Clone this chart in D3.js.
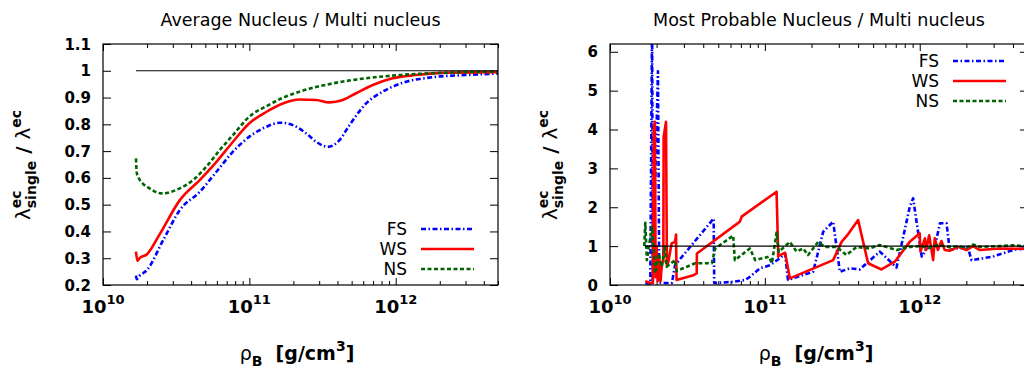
<!DOCTYPE html>
<html>
<head>
<meta charset="utf-8">
<script src="https://cdn.jsdelivr.net/npm/d3@7"></script>
<style>
  body { margin: 0; background: #fff; }
  svg { display: block; }
</style>
</head>
<body>
<svg id="chart" width="1024" height="369"></svg>
<script>
'use strict';

// ---- left panel: average nucleus / multi nucleus
var avgRhoFS = [1.68e10, 1.70e10, 1.76e10, 2.0e10, 2.58e10, 3.35e10, 4.58e10, 5.96e10, 7.73e10, 1.0e11, 1.31e11, 1.61e11,
  1.98e11, 2.45e11, 2.86e11, 3.44e11, 4.13e11, 4.83e11, 6.28e11, 8.15e11, 1.06e12, 1.79e12, 3.01e12, 5e12];
var avgFS = [0.235, 0.222, 0.232, 0.256, 0.368, 0.48, 0.548, 0.623, 0.698, 0.754, 0.791, 0.806,
  0.797, 0.766, 0.735, 0.716, 0.741, 0.797, 0.878, 0.922, 0.951, 0.976, 0.984, 0.99];

var avgRhoWS = [1.68e10, 1.72e10, 1.78e10, 2.0e10, 2.46e10, 3.35e10, 4.58e10, 5.96e10, 7.73e10, 1.0e11, 1.31e11,
  1.69e11, 2.20e11, 2.86e11, 3.53e11, 4.35e11, 5.36e11, 6.97e11, 9.53e11, 1.37e12, 2.32e12, 5e12];
var avgWS = [0.325, 0.29, 0.30, 0.315, 0.393, 0.517, 0.592, 0.66, 0.735, 0.804, 0.847,
  0.878, 0.893, 0.891, 0.882, 0.891, 0.916, 0.947, 0.972, 0.984, 0.993, 0.995];

var avgRhoNS = [1.68e10, 1.70e10, 1.74e10, 1.87e10, 2.0e10, 2.52e10, 3.35e10, 4.13e10, 5.09e10, 6.28e10, 7.73e10,
  1.0e11, 1.31e11, 1.69e11, 2.20e11, 3.72e11, 6.28e11, 1.06e12, 2.32e12, 5e12];
var avgNS = [0.673, 0.62, 0.604, 0.579, 0.567, 0.542, 0.561, 0.592, 0.642, 0.704, 0.76,
  0.829, 0.868, 0.899, 0.922, 0.953, 0.972, 0.984, 0.993, 0.997];

// ---- right panel: most probable nucleus / multi nucleus
var mpRhoFS = [1.69e10, 1.82e10, 1.87e10, 1.89e10, 2.04e10, 2.08e10, 2.51e10, 2.63e10, 4.67e10, 4.71e10,
  6.24e10, 7.46e10, 8.0e10, 9.29e10, 1.08e11, 1.25e11, 1.35e11, 1.41e11, 2.05e11, 2.38e11,
  2.76e11, 3.05e11, 3.53e11, 4.10e11, 5.52e11, 7.08e11, 8.62e11, 9.06e11, 1.03e12, 1.08e12,
  1.10e12, 1.25e12, 1.35e12, 1.49e12, 1.56e12, 1.77e12, 2.05e12, 2.16e12, 2.97e12, 4.0e12, 5e12];
var mpFS = [0.04, 0.04, 6.9, 0.05, 5.5, 0.05, 0.05, 0.51, 1.71, 0.05,
  0.08, 0.13, 0.21, 0.43, 0.51, 0.69, 0.81, 0.13, 0.34, 1.37,
  1.63, 0.34, 0.43, 0.40, 0.86, 0.45, 2.01, 2.23, 0.73, 0.85,
  0.95, 0.97, 1.59, 1.59, 0.90, 0.95, 0.95, 0.64, 0.73, 0.90, 0.95];

var mpRhoWS = [1.69e10, 1.82e10, 1.89e10, 1.92e10, 1.95e10, 1.97e10, 2.0e10, 2.03e10, 2.08e10, 2.12e10,
  2.17e10, 2.21e10, 2.22e10, 2.30e10, 2.33e10, 2.38e10, 2.50e10, 2.63e10, 2.67e10, 2.69e10,
  3.45e10, 3.63e10, 3.64e10, 6.90e10, 7.08e10, 1.19e11, 1.22e11, 1.25e11, 1.35e11, 1.45e11,
  2.76e11, 3.13e11, 3.45e11, 4.0e11, 4.64e11, 5.66e11, 6.90e11, 8.62e11, 1.0e12, 1.01e12,
  1.08e12, 1.10e12, 1.15e12, 1.22e12, 1.25e12, 1.31e12, 1.38e12, 1.45e12, 1.56e12, 1.77e12,
  2.0e12, 2.21e12, 2.44e12, 3.28e12, 5e12];
var mpWS = [0.1, 0.05, 0.05, 4.1, 4.2, 0.2, 1.0, 0.1, 0.7, 0.1,
  0.6, 0.6, 3.8, 4.2, 0.5, 0.6, 1.07, 1.11, 1.3, 0.13,
  0.25, 0.3, 0.81, 1.63, 1.76, 2.40, 0.73, 0.77, 0.83, 0.17,
  0.64, 1.11, 1.31, 1.67, 0.56, 0.40, 0.60, 1.11, 1.33, 0.86,
  1.2, 0.9, 1.28, 0.64, 1.2, 0.9, 1.13, 0.9, 0.88, 0.98,
  0.9, 1.0, 0.9, 0.94, 0.93];

var mpRhoNS = [1.665e10, 1.69e10, 1.73e10, 1.81e10, 1.87e10, 1.96e10, 2.06e10, 2.16e10, 2.26e10, 2.32e10,
  2.63e10, 2.69e10, 3.55e10, 4.55e10, 4.78e10, 6.24e10, 6.40e10, 8.0e10, 8.66e10, 1.06e11,
  1.11e11, 1.19e11, 1.23e11, 1.35e11, 1.45e11, 1.60e11, 1.77e11, 1.90e11, 2.21e11, 2.44e11,
  2.90e11, 3.37e11, 3.91e11, 4.75e11, 5.52e11, 7.08e11, 8.62e11, 1.0e12, 1.15e12, 1.31e12,
  1.56e12, 1.77e12, 2.0e12, 2.21e12, 2.44e12, 3.28e12, 4.0e12, 5e12];
var mpNS = [1.0, 1.6, 0.64, 1.16, 1.5, 0.3, 0.81, 0.47, 0.98, 0.47,
  0.64, 0.36, 0.56, 0.56, 0.94, 1.27, 0.64, 0.94, 0.64, 0.73,
  0.56, 1.35, 0.85, 1.0, 1.11, 0.86, 0.94, 0.77, 1.11, 0.98,
  0.98, 0.77, 0.98, 0.94, 1.03, 0.90, 0.98, 1.0, 0.95, 1.03,
  0.97, 1.0, 0.96, 1.04, 0.98, 1.0, 1.02, 0.99];

var seriesNames = ['FS', 'WS', 'NS'];
var decades = [1e10, 1e11, 1e12];
var decadeExp = ['10', '11', '12'];
var avgYTicks = [0.2, 0.3, 0.4, 0.5, 0.6, 0.7, 0.8, 0.9, 1, 1.1];
var mpYTicks = [0, 1, 2, 3, 4, 5, 6];
var refLineRho = [1.68e10, 5e12];   // horizontal y = 1 guide

var FONT = '"DejaVu Sans", Verdana, sans-serif';
var styles = {
  FS: { color: '#0000ff', dash: '5,2.5,1.5,2.5' },
  WS: { color: '#ff0000', dash: null },
  NS: { color: '#006400', dash: '4,2.5' }
};

var svg = d3.select('#chart');
var defs = svg.append('defs');

function zip(xs, ys) {
  return xs.map(function(v, i) { return [v, ys[i]]; });
}

function measure(str, size, weight) {
  var t = svg.append('text').attr('font-family', FONT).attr('font-size', size)
    .attr('font-weight', weight).text(str);
  var w = t.node().getComputedTextLength();
  t.remove();
  return w;
}

function drawPanel(p) {
  var g = svg.append('g');
  var x = d3.scaleLog().domain([1e10, 5e12]).range([p.left, p.right]);
  var y = d3.scaleLinear().domain(p.yDomain).range([p.bottom, p.top]);

  defs.append('clipPath').attr('id', 'clip-' + p.id).append('rect')
    .attr('x', p.left).attr('y', p.top)
    .attr('width', p.right - p.left).attr('height', p.bottom - p.top);

  var minors = [];
  decades.forEach(function(d) {
    for (var k = 2; k <= 9; k++) if (d * k <= 5e12) minors.push(d * k);
  });

  function tickAxis(axis, tr) {
    var a = g.append('g').attr('transform', tr).call(axis);
    a.select('.domain').remove();
    a.selectAll('line').attr('stroke', '#000').attr('stroke-width', 1);
    a.selectAll('text').remove();
  }
  tickAxis(d3.axisTop(x).tickValues(decades).tickSize(7), 'translate(0,' + p.bottom + ')');
  tickAxis(d3.axisTop(x).tickValues(minors).tickSize(4), 'translate(0,' + p.bottom + ')');
  tickAxis(d3.axisBottom(x).tickValues(decades).tickSize(7), 'translate(0,' + p.top + ')');
  tickAxis(d3.axisBottom(x).tickValues(minors).tickSize(4), 'translate(0,' + p.top + ')');
  tickAxis(d3.axisRight(y).tickValues(p.yTicks).tickSize(8), 'translate(' + p.left + ',0)');
  tickAxis(d3.axisLeft(y).tickValues(p.yTicks).tickSize(8), 'translate(' + p.right + ',0)');

  // y tick labels
  g.selectAll('.ylab').data(p.yTicks).enter().append('text')
    .attr('x', p.left - 12).attr('y', function(d) { return y(d) + 5.5; })
    .attr('text-anchor', 'end').attr('font-family', FONT).attr('font-size', 15)
    .attr('font-weight', 'bold').text(function(d) { return d; });

  // x tick labels 10^n
  decades.forEach(function(d, i) {
    var t = g.append('text').attr('x', x(d)).attr('y', p.bottom + 28)
      .attr('text-anchor', 'middle').attr('font-family', FONT).attr('font-weight', 'bold');
    t.append('tspan').attr('font-size', 18).text('10');
    t.append('tspan').attr('font-size', 13).attr('dy', -9).text(decadeExp[i]);
  });

  // data
  var line = d3.line().x(function(d) { return x(d[0]); }).y(function(d) { return y(d[1]); })
    .curve(p.curve);
  var plot = g.append('g').attr('clip-path', 'url(#clip-' + p.id + ')');
  p.series.forEach(function(s) {
    var st = styles[s.name];
    plot.append('path').datum(zip(s.rho, s.val)).attr('d', line)
      .attr('fill', 'none').attr('stroke', st.color).attr('stroke-width', 2.6)
      .attr('stroke-dasharray', st.dash).attr('stroke-linejoin', 'round');
  });
  plot.append('path').datum(zip(refLineRho, [1, 1])).attr('d', d3.line()
      .x(function(d) { return x(d[0]); }).y(function(d) { return y(d[1]); }))
    .attr('stroke', '#000').attr('stroke-width', 1.1).attr('fill', 'none');

  // frame
  g.append('rect').attr('x', p.left).attr('y', p.top)
    .attr('width', p.right - p.left).attr('height', p.bottom - p.top)
    .attr('fill', 'none').attr('stroke', '#000').attr('stroke-width', 1.2);

  // legend
  seriesNames.forEach(function(name, i) {
    var ly = p.legendY + i * 20;
    g.append('text').attr('x', p.legendX).attr('y', ly + 6).attr('text-anchor', 'end')
      .attr('font-family', FONT).attr('font-size', 17).text(name);
    g.append('line').attr('x1', p.legendX + 14).attr('x2', p.legendX + 67)
      .attr('y1', ly).attr('y2', ly).attr('stroke', styles[name].color)
      .attr('stroke-width', 2.6).attr('stroke-dasharray', styles[name].dash);
  });

  // title
  g.append('text').attr('x', (p.left + p.right) / 2).attr('y', 26).attr('text-anchor', 'middle')
    .attr('font-family', FONT).attr('font-size', 17.5).text(p.title);

  // x axis label: rho_B [g/cm^3]
  var xl = g.append('text').attr('x', p.xLabelX).attr('y', 360).attr('text-anchor', 'middle')
    .attr('font-family', FONT).attr('font-size', 19);
  xl.append('tspan').text('ρ');
  xl.append('tspan').attr('font-weight', 'bold').attr('font-size', 14).attr('dy', 6).text('B');
  xl.append('tspan').attr('font-weight', 'bold').attr('dy', -6).text('\u00a0 [g/cm');
  xl.append('tspan').attr('font-weight', 'bold').attr('font-size', 14).attr('dy', -9).text('3');
  xl.append('tspan').attr('font-weight', 'bold').attr('dy', 9).text(']');

  // y axis label: lambda^ec_single / lambda^ec (stacked sup/sub)
  var big = 20, small = 14;
  var wLam = measure('λ', big, 'normal');
  var wSingle = measure('single', small, 'bold');
  var wEc = measure('ec', small, 'bold');
  var wSlash = measure('\u00a0/\u00a0', big, 'bold');
  var total = wLam + Math.max(wSingle, wEc) + wSlash + wLam + wEc;
  var yl = g.append('g').attr('transform', 'translate(' + p.yLabelX + ',165) rotate(-90)')
    .attr('font-family', FONT);
  var cx = -total / 2;
  yl.append('text').attr('x', cx).attr('y', 0).attr('font-size', big).text('λ');
  cx += wLam;
  yl.append('text').attr('x', cx).attr('y', -9).attr('font-size', small).attr('font-weight', 'bold').text('ec');
  yl.append('text').attr('x', cx).attr('y', 6).attr('font-size', small).attr('font-weight', 'bold').text('single');
  cx += Math.max(wSingle, wEc);
  yl.append('text').attr('x', cx).attr('y', 0).attr('font-size', big).attr('font-weight', 'bold').text('\u00a0/\u00a0');
  cx += wSlash;
  yl.append('text').attr('x', cx).attr('y', 0).attr('font-size', big).text('λ');
  cx += wLam;
  yl.append('text').attr('x', cx).attr('y', -9).attr('font-size', small).attr('font-weight', 'bold').text('ec');
}

drawPanel({
  id: 'avg', left: 103, right: 498, top: 44, bottom: 285,
  yDomain: [0.2, 1.1], yTicks: avgYTicks, curve: d3.curveMonotoneX,
  title: 'Average Nucleus / Multi nucleus',
  legendX: 407, legendY: 229, xLabelX: 297, yLabelX: 30,
  series: [
    { name: 'FS', rho: avgRhoFS, val: avgFS },
    { name: 'WS', rho: avgRhoWS, val: avgWS },
    { name: 'NS', rho: avgRhoNS, val: avgNS }
  ]
});

drawPanel({
  id: 'mp', left: 610, right: 1028, top: 44, bottom: 285,
  yDomain: [0, 6.2], yTicks: mpYTicks, curve: d3.curveLinear,
  title: 'Most Probable Nucleus / Multi nucleus',
  legendX: 939, legendY: 61, xLabelX: 816, yLabelX: 557,
  series: [
    { name: 'FS', rho: mpRhoFS, val: mpFS },
    { name: 'WS', rho: mpRhoWS, val: mpWS },
    { name: 'NS', rho: mpRhoNS, val: mpNS }
  ]
});
</script>
</body>
</html>
